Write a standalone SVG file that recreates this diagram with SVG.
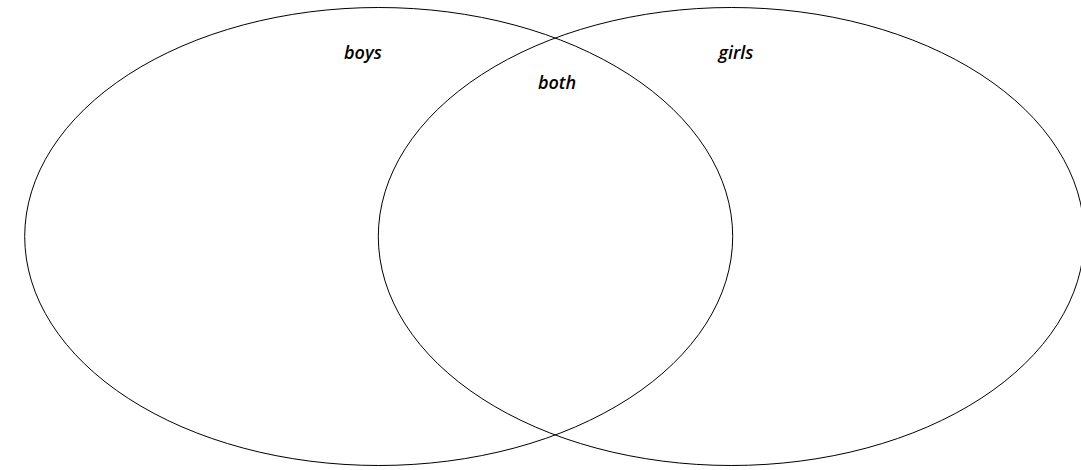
<svg xmlns="http://www.w3.org/2000/svg" width="1081" height="470" viewBox="0 0 1081 470">
<style>
.set{fill:none;stroke:#000;stroke-width:1}
.lbl{font-family:"Open Sans","DejaVu Sans",sans-serif;font-size:18px;font-weight:600;font-style:italic;fill:#000;text-anchor:middle}
</style>
<rect width="1081" height="470" fill="#fff"/>
<g id="boys">
<ellipse class="set" cx="378.7" cy="236.5" rx="354" ry="229"/>
<text class="lbl" x="363" y="59">boys</text>
</g>
<g id="girls">
<ellipse class="set" cx="731.3" cy="236.5" rx="353" ry="229"/>
<text class="lbl" x="736" y="59">girls</text>
</g>
<g id="both">
<text class="lbl" x="557" y="89">both</text>
</g>
<g id="connectors"/>
</svg>
